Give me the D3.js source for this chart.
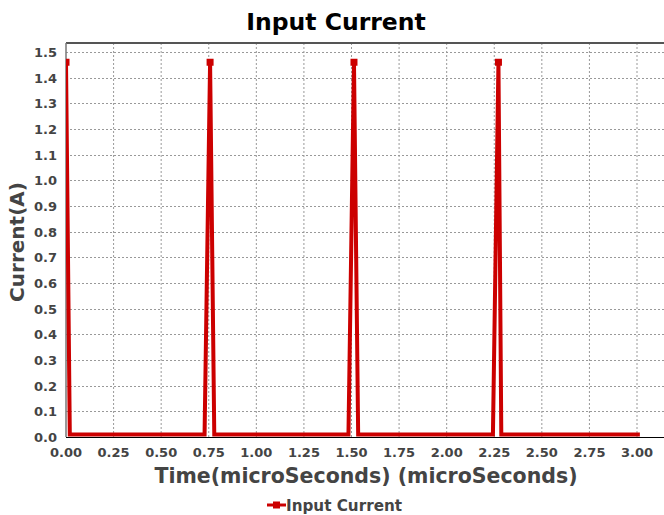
<!DOCTYPE html>
<html><head><meta charset="utf-8">
<script src="https://cdn.jsdelivr.net/npm/d3@7"></script>
<style>body{margin:0;background:#fff}svg{display:block}text{font-family:"DejaVu Sans",sans-serif}</style>
</head><body>
<svg id="c" width="664" height="515"></svg>
<script>
const seriesName = "Input Current";
const timeValues = [0.000, 0.020, 0.728, 0.757, 0.779, 1.484, 1.513, 1.535, 2.243, 2.272, 2.287, 3.015];
const currentValues = [1.46, 0.01, 0.01, 1.46, 0.01, 0.01, 1.46, 0.01, 0.01, 1.46, 0.01, 0.01];
const xTicks = [0, 0.25, 0.5, 0.75, 1.0, 1.25, 1.5, 1.75, 2.0, 2.25, 2.5, 2.75, 3.0];
const yTicks = [0, 0.1, 0.2, 0.3, 0.4, 0.5, 0.6, 0.7, 0.8, 0.9, 1.0, 1.1, 1.2, 1.3, 1.4, 1.5];
const data = timeValues.map((t, i) => ({t, v: currentValues[i]}));

const svg = d3.select("#c");
const L = 66, R = 664, T = 43, B = 437;
const x = d3.scaleLinear().domain([0, 3.1418]).range([L, R]);
const y = d3.scaleLinear().domain([0, 1.535]).range([B, T]);

const defs = svg.append("defs");
defs.append("clipPath").attr("id", "clip").append("rect")
  .attr("x", L).attr("y", T).attr("width", R - L).attr("height", B - T);

// grid
const g = svg.append("g");
g.selectAll("line.vx").data(xTicks.slice(1)).enter().append("line")
  .attr("x1", d => x(d)).attr("x2", d => x(d)).attr("y1", T).attr("y2", B)
  .attr("stroke", "#999").attr("stroke-width", 1).attr("stroke-dasharray", "2,2");
g.selectAll("line.hy").data(yTicks.slice(1)).enter().append("line")
  .attr("y1", d => Math.round(y(d)) + 0.5).attr("y2", d => Math.round(y(d)) + 0.5).attr("x1", L).attr("x2", R)
  .attr("stroke", "#999").attr("stroke-width", 1).attr("stroke-dasharray", "2,2");

// borders
svg.append("line").attr("x1", L).attr("x2", R).attr("y1", T).attr("y2", T).attr("stroke", "#555").attr("stroke-width", 2);
svg.append("line").attr("x1", L).attr("x2", L).attr("y1", T).attr("y2", B).attr("stroke", "#777").attr("stroke-width", 1.5);

// series
const line = d3.line().x(d => x(d.t)).y(d => y(d.v));
const plot = svg.append("g").attr("clip-path", "url(#clip)");
plot.append("path").datum(data).attr("d", line).attr("fill", "none")
  .attr("stroke", "#cc0000").attr("stroke-width", 4).attr("stroke-linejoin", "miter");
plot.selectAll("rect.m").data(data.filter(d => d.v > 1)).enter().append("rect")
  .attr("x", d => x(d.t) - 3.5).attr("y", d => y(d.v) - 3.5).attr("width", 7).attr("height", 7)
  .attr("fill", "#cc0000");

// x axis line
svg.append("line").attr("x1", L).attr("x2", R).attr("y1", B + 0.5).attr("y2", B + 0.5).attr("stroke", "#000").attr("stroke-width", 1.2);

// tick labels
svg.selectAll("text.xt").data(xTicks).enter().append("text")
  .attr("x", d => x(d)).attr("y", 457).attr("text-anchor", "middle")
  .attr("font-size", 13).attr("font-weight", "bold").attr("fill", "#444")
  .text(d => d3.format(".2f")(d));
svg.selectAll("text.yt").data(yTicks).enter().append("text")
  .attr("x", 57).attr("y", d => y(d) + 5).attr("text-anchor", "end")
  .attr("font-size", 13).attr("font-weight", "bold").attr("fill", "#444")
  .text(d => d3.format(".1f")(d));

// titles
svg.append("text").attr("x", 336).attr("y", 30).attr("text-anchor", "middle")
  .attr("font-size", 23.5).attr("font-weight", "bold").attr("fill", "#000").text("Input Current");
svg.append("text").attr("x", 366).attr("y", 483).attr("text-anchor", "middle")
  .attr("font-size", 20.5).attr("font-weight", "bold").attr("fill", "#444").text("Time(microSeconds) (microSeconds)");
svg.append("text").attr("transform", "translate(24,242) rotate(-90)").attr("text-anchor", "middle")
  .attr("font-size", 20).attr("font-weight", "bold").attr("fill", "#444").text("Current(A)");

// legend
const lg = svg.append("g");
lg.append("line").attr("x1", 267).attr("x2", 286).attr("y1", 505).attr("y2", 505).attr("stroke", "#cc0000").attr("stroke-width", 3);
lg.append("rect").attr("x", 273).attr("y", 501.5).attr("width", 7).attr("height", 7).attr("fill", "#cc0000");
lg.append("text").attr("x", 286).attr("y", 510.5).attr("font-size", 15.2).attr("font-weight", "bold").attr("fill", "#444").text(seriesName);
</script>
</body></html>
